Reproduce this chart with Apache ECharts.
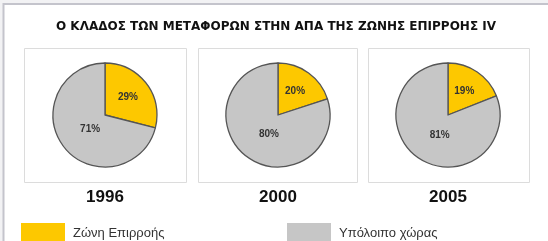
<!DOCTYPE html>
<html>
<head>
<meta charset="utf-8">
<script src="https://cdn.jsdelivr.net/npm/echarts@6/dist/echarts.min.js"></script>
<style>
  html, body { margin: 0; padding: 0; background: #f2f2f4; }
  #chart { width: 548px; height: 241px; }
</style>
</head>
<body>
<div id="chart"></div>
<script>
const title       = 'Ο ΚΛΑΔΟΣ ΤΩΝ ΜΕΤΑΦΟΡΩΝ ΣΤΗΝ ΑΠΑ ΤΗΣ ΖΩΝΗΣ ΕΠΙΡΡΟΗΣ IV'
const years       = ['1996', '2000', '2005']
const sliceNames  = ['Ζώνη Επιρροής', 'Υπόλοιπο χώρας']
const zoneShare   = [29, 20, 19]
const restShare   = [71, 80, 81]

const colors   = ['#fdc800', '#c6c6c6']
const centers  = [[105, 115], [278, 115], [448, 115]]
const boxes    = [[24, 48, 162, 134], [198, 48, 159, 134], [368, 48, 161, 134]]
const FONT     = '"Liberation Sans", Arial, sans-serif'

const chart = echarts.init(document.getElementById('chart'), null, { renderer: 'canvas' })

const graphics = [
  // outer panel
  { type: 'rect', z: -10, shape: { x: 3.5, y: 4, width: 600, height: 300 },
    style: { fill: '#ffffff', stroke: '#c4c4cc', lineWidth: 2 }, silent: true },
  { type: 'text', x: 276, y: 27,
    style: { text: title, fill: '#111111', font: 'bold 12px "DejaVu Sans", sans-serif',
             textAlign: 'center', textVerticalAlign: 'middle' } }
]
boxes.forEach(([x, y, w, h]) => {
  graphics.push({ type: 'rect', z: -5, shape: { x: x + 0.5, y: y + 0.5, width: w, height: h },
    style: { fill: 'none', stroke: '#dcdcdc', lineWidth: 1 }, silent: true })
})
years.forEach((yr, i) => {
  graphics.push({ type: 'text', x: centers[i][0], y: 197,
    style: { text: yr, fill: '#111111', font: 'bold 17px ' + FONT,
             textAlign: 'center', textVerticalAlign: 'middle' } })
})

const series = years.map((yr, i) => ({
  type: 'pie',
  name: yr,
  center: centers[i],
  radius: 52,
  startAngle: 90,
  clockwise: true,
  silent: true,
  itemStyle: { borderColor: '#555555', borderWidth: 1.3 },
  label: {
    show: true,
    position: 'inside',
    formatter: '{c}%',
    color: '#333333',
    fontFamily: FONT,
    fontWeight: 'bold',
    fontSize: 10
  },
  labelLine: { show: false },
  // pull the larger slice's label in toward the centre, like the original
  labelLayout: (p) => p.dataIndex === 1 ? { dx: 8, dy: -4 } : {},
  data: [
    { name: sliceNames[0], value: zoneShare[i], itemStyle: { color: colors[0] } },
    { name: sliceNames[1], value: restShare[i], itemStyle: { color: colors[1] } }
  ]
}))

const legendBase = {
  orient: 'horizontal',
  top: 223,
  padding: 0,
  icon: 'rect',
  itemWidth: 44,
  itemHeight: 20,
  selectedMode: false,
  itemStyle: { borderWidth: 0 },
  textStyle: { color: '#333333', fontSize: 13, fontFamily: FONT, padding: [0, 0, 0, 3] }
}

chart.setOption({
  animation: false,
  backgroundColor: 'transparent',
  graphic: graphics,
  legend: [
    Object.assign({}, legendBase, { left: 21, data: [sliceNames[0]] }),
    Object.assign({}, legendBase, { left: 287, data: [sliceNames[1]] })
  ],
  series
})
</script>
</body>
</html>
